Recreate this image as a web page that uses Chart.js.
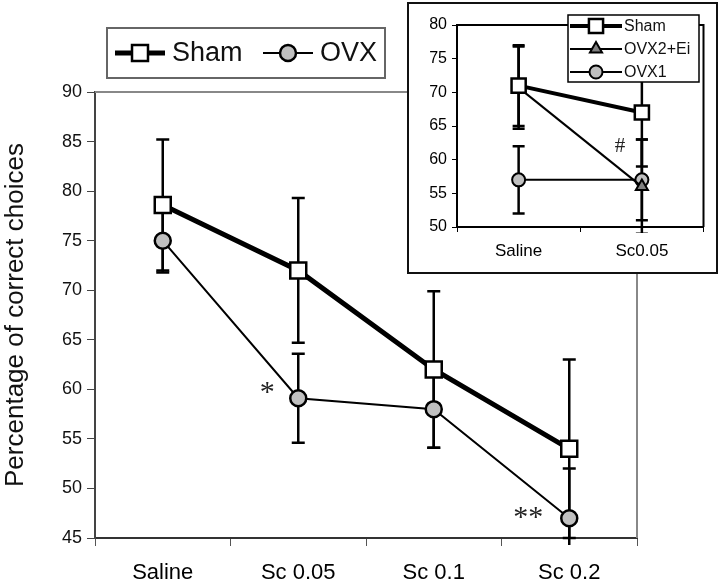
<!DOCTYPE html>
<html>
<head>
<meta charset="utf-8">
<script src="https://cdn.jsdelivr.net/npm/chart.js@4/dist/chart.umd.min.js"></script>
<style>
  body { margin: 0; background: #fff; }
  #wrap { position: relative; width: 720px; height: 588px; }
  #inset-box {
    position: absolute; left: 407px; top: 2px;
    width: 307px; height: 268px;
    border: 2px solid #111; background: #fff;
  }
</style>
</head>
<body>
<div id="wrap">
  <canvas id="chart" width="720" height="588"></canvas>
  <div id="inset-box"><canvas id="inset" width="307" height="268"></canvas></div>
</div>
<script>
const FONT = "'Liberation Sans', Arial, sans-serif";

// main panel
const categories = ["Saline", "Sc 0.05", "Sc 0.1", "Sc 0.2"];
const shamMean = [78.6, 72, 62, 54];
const shamErr = [6.6, 7.3, 7.9, 9];
const ovxMean = [75, 59.1, 58, 47];
const ovxErr = [3.2, 4.5, 3.9, 5];

// inset panel
const insetCategories = ["Saline", "Sc0.05"];
const insetSham = [71, 67];
const insetShamErr = [6, 8];
const insetOvx2 = [70.7, 56];
const insetOvx2Err = [6.1, 7];
const insetOvx1 = [57, 57];
const insetOvx1Err = [5, 6];


function drawMarker(ctx, style, x, y, r, fill, bw) {
  ctx.save();
  ctx.fillStyle = fill;
  ctx.strokeStyle = "#000";
  ctx.lineWidth = bw;
  ctx.beginPath();
  if (style === "rect") {
    const s = r / Math.SQRT2;
    ctx.rect(x - s, y - s, 2 * s, 2 * s);
  } else if (style === "triangle") {
    ctx.moveTo(x, y - r);
    ctx.lineTo(x + 0.866 * r, y + 0.5 * r);
    ctx.lineTo(x - 0.866 * r, y + 0.5 * r);
    ctx.closePath();
  } else {
    ctx.arc(x, y, r, 0, Math.PI * 2);
  }
  ctx.fill();
  ctx.stroke();
  ctx.restore();
}

// vertical error bars with caps, read from dataset.errors
const errorBars = {
  id: "errorBars",
  beforeDatasetsDraw(chart, args, opts) {
    const { ctx, chartArea } = chart;
    const y = chart.scales.y;
    ctx.save();
    ctx.beginPath();
    ctx.rect(chartArea.left - 20, 0, chartArea.width + 40, chartArea.bottom + opts.below);
    ctx.clip();
    ctx.strokeStyle = "#000";
    ctx.lineWidth = opts.lineWidth;
    chart.data.datasets.forEach((ds, i) => {
      const meta = chart.getDatasetMeta(i);
      meta.data.forEach((pt, j) => {
        const v = ds.data[j], e = ds.errors[j];
        const top = y.getPixelForValue(v + e);
        const bot = y.getPixelForValue(v - e);
        const c = opts.cap / 2;
        ctx.beginPath();
        ctx.moveTo(pt.x, top);
        ctx.lineTo(pt.x, bot);
        ctx.moveTo(pt.x - c, top);
        ctx.lineTo(pt.x + c, top);
        ctx.moveTo(pt.x - c, bot);
        ctx.lineTo(pt.x + c, bot);
        ctx.stroke();
      });
    });
    ctx.restore();
  }
};

// top and right sides of the plot frame
const frame = {
  id: "frame",
  beforeDatasetsDraw(chart, args, opts) {
    const { ctx, chartArea: a } = chart;
    ctx.save();
    ctx.strokeStyle = opts.color;
    ctx.lineWidth = opts.width;
    ctx.beginPath();
    ctx.moveTo(a.left, a.top);
    ctx.lineTo(a.right, a.top);
    ctx.lineTo(a.right, a.bottom);
    ctx.stroke();
    ctx.restore();
  }
};

// boxed legend, line sample + marker like the datasets
const boxLegend = {
  id: "boxLegend",
  afterDraw(chart, args, opts) {
    const ctx = chart.ctx;
    const [bx, by, bw, bh] = opts.box;
    ctx.save();
    ctx.fillStyle = "#fff";
    ctx.fillRect(bx, by, bw, bh);
    ctx.strokeStyle = opts.borderColor;
    ctx.lineWidth = opts.borderWidth;
    ctx.strokeRect(bx, by, bw, bh);
    ctx.font = opts.font;
    ctx.textBaseline = "middle";
    chart.data.datasets.forEach((ds, i) => {
      const it = opts.items[i];
      ctx.strokeStyle = "#000";
      ctx.lineWidth = ds.borderWidth;
      ctx.beginPath();
      ctx.moveTo(it.x, it.y);
      ctx.lineTo(it.x + opts.lineLen, it.y);
      ctx.stroke();
      drawMarker(ctx, ds.pointStyle, it.x + opts.lineLen / 2, it.y,
        ds.pointRadius, ds.pointBackgroundColor, ds.pointBorderWidth);
      ctx.fillStyle = "#111";
      ctx.fillText(ds.label, it.x + opts.lineLen + opts.gap, it.y + 1);
    });
    ctx.restore();
  }
};

// significance marks placed next to data points
const notes = {
  id: "notes",
  afterDatasetsDraw(chart, args, opts) {
    const ctx = chart.ctx;
    ctx.save();
    ctx.font = opts.font;
    ctx.fillStyle = "#222";
    ctx.textAlign = "center";
    ctx.textBaseline = "middle";
    opts.marks.forEach(m => {
      const x = chart.scales.x.getPixelForValue(m.index) + m.dx;
      const y = chart.scales.y.getPixelForValue(m.value);
      ctx.fillText(m.text, x, y);
    });
    ctx.restore();
  }
};


new Chart(document.getElementById("chart"), {
  type: "line",
  data: {
    labels: categories,
    datasets: [{
      label: "Sham",
      data: shamMean,
      errors: shamErr,
      borderColor: "#000",
      borderWidth: 5,
      pointStyle: "rect",
      pointRadius: 11.3,
      pointBackgroundColor: "#fff",
      pointBorderColor: "#000",
      pointBorderWidth: 2.5,
      tension: 0
    }, {
      label: "OVX",
      data: ovxMean,
      errors: ovxErr,
      borderColor: "#000",
      borderWidth: 2,
      pointStyle: "circle",
      pointRadius: 8,
      pointBackgroundColor: "#c0c0c0",
      pointBorderColor: "#000",
      pointBorderWidth: 2.5,
      tension: 0
    }]
  },
  options: {
    responsive: false,
    animation: false,
    layout: { padding: { top: 92, right: 83, left: 0, bottom: 0 } },
    plugins: {
      legend: { display: false },
      tooltip: { enabled: false },
      errorBars: { lineWidth: 2.5, cap: 13, below: 7 },
      frame: { color: "#888", width: 2 },
      boxLegend: {
        box: [107, 28, 278, 50],
        borderColor: "#666",
        borderWidth: 2,
        font: "27px " + FONT,
        lineLen: 50,
        gap: 7,
        items: [{ x: 115, y: 53 }, { x: 263, y: 53 }]
      },
      notes: {
        font: "30px 'Liberation Serif', serif",
        marks: [
          { text: "*", index: 1, dx: -31, value: 59.6 },
          { text: "**", index: 3, dx: -41, value: 47.0 }
        ]
      }
    },
    scales: {
      x: {
        offset: true,
        grid: { offset: true, drawOnChartArea: false, tickLength: 8, color: "#555" },
        border: { color: "#333", width: 2 },
        ticks: {
          font: { family: FONT, size: 22 },
          color: "#000",
          padding: 14,
          maxRotation: 0,
          autoSkip: false
        },
        afterFit: s => { s.height = 50; }
      },
      y: {
        min: 45,
        max: 90,
        ticks: { stepSize: 5, font: { family: FONT, size: 18 }, color: "#111", padding: 5 },
        grid: { drawOnChartArea: false, tickLength: 8, color: "#444" },
        border: { color: "#444", width: 2 },
        title: {
          display: true,
          text: "Percentage of correct choices",
          font: { family: FONT, size: 26 },
          color: "#111",
          padding: 0
        },
        afterFit: s => { s.width = 95; }
      }
    }
  },
  plugins: [errorBars, frame, notes, boxLegend]
});


new Chart(document.getElementById("inset"), {
  type: "line",
  data: {
    labels: insetCategories,
    datasets: [{
      label: "Sham",
      data: insetSham,
      errors: insetShamErr,
      borderColor: "#000",
      borderWidth: 4,
      pointStyle: "rect",
      pointRadius: 10,
      pointBackgroundColor: "#fff",
      pointBorderColor: "#000",
      pointBorderWidth: 2.5,
      tension: 0
    }, {
      label: "OVX2+Ei",
      data: insetOvx2,
      errors: insetOvx2Err,
      borderColor: "#000",
      borderWidth: 2,
      pointStyle: "triangle",
      pointRadius: 7,
      pointBackgroundColor: "#808080",
      pointBorderColor: "#000",
      pointBorderWidth: 2,
      tension: 0
    }, {
      label: "OVX1",
      data: insetOvx1,
      errors: insetOvx1Err,
      borderColor: "#000",
      borderWidth: 2,
      pointStyle: "circle",
      pointRadius: 6.5,
      pointBackgroundColor: "#c0c0c0",
      pointBorderColor: "#000",
      pointBorderWidth: 2,
      tension: 0
    }]
  },
  options: {
    responsive: false,
    animation: false,
    layout: { padding: { top: 21, right: 9, left: 0, bottom: 0 } },
    plugins: {
      legend: { display: false },
      tooltip: { enabled: false },
      errorBars: { lineWidth: 2.5, cap: 12, below: 6 },
      frame: { color: "#000", width: 2 },
      boxLegend: {
        box: [159, 11, 131, 67],
        borderColor: "#000",
        borderWidth: 1.5,
        font: "16px " + FONT,
        lineLen: 52,
        gap: 2,
        items: [{ x: 161, y: 22 }, { x: 161, y: 45 }, { x: 161, y: 68 }]
      },
      notes: {
        font: "21px 'Liberation Serif', serif",
        marks: [{ text: "#", index: 1, dx: -22, value: 61.9 }]
      }
    },
    scales: {
      x: {
        offset: true,
        grid: { offset: true, drawOnChartArea: false, tickLength: 5, color: "#000" },
        border: { color: "#000", width: 2 },
        ticks: {
          font: { family: FONT, size: 17 },
          color: "#000",
          padding: 9,
          maxRotation: 0,
          autoSkip: false
        },
        afterFit: s => { s.height = 45; }
      },
      y: {
        min: 50,
        max: 80,
        ticks: { stepSize: 5, font: { family: FONT, size: 16 }, color: "#000", padding: 5 },
        grid: { drawOnChartArea: false, tickLength: 5, color: "#000" },
        border: { color: "#000", width: 2 },
        afterFit: s => { s.width = 48; }
      }
    }
  },
  plugins: [errorBars, frame, notes, boxLegend]
});
</script>
</body>
</html>
